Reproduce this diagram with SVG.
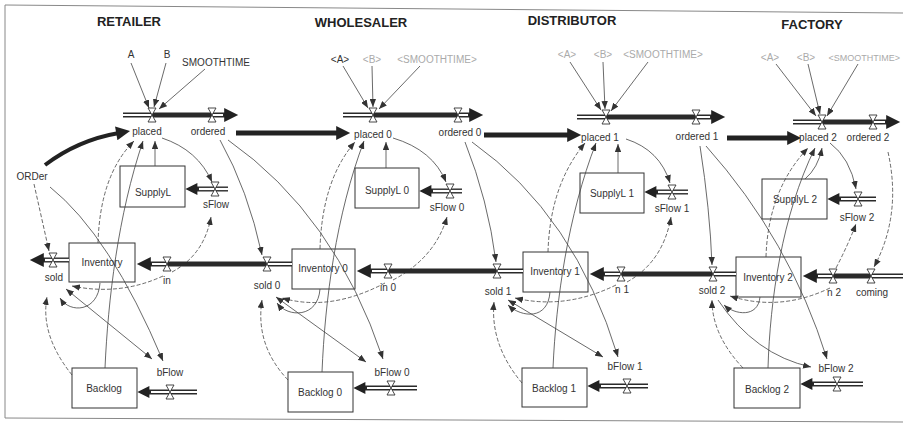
<svg xmlns="http://www.w3.org/2000/svg" xmlns:xlink="http://www.w3.org/1999/xlink" width="903" height="425" viewBox="0 0 903 425">
<style>
.t{font-family:"Liberation Sans",Arial,sans-serif;font-size:10px;fill:#333;text-anchor:middle}
.g{fill:#aaa}
.h{font-size:13px;font-weight:bold;fill:#222}
.bx{fill:#fff;stroke:#333;stroke-width:1}
.lk{fill:none;stroke:#444;stroke-width:0.8;marker-end:url(#ah)}
.d{stroke-dasharray:4 2}
.bi{marker-start:url(#ah)}
.th{fill:none;stroke:#222;stroke-width:5;marker-end:url(#big)}
.po{fill:none;stroke:#2a2a2a;stroke-width:5}
.pb{marker-end:url(#big)}
.ps{marker-end:url(#fa)}
.pi{fill:none;stroke:#fff;stroke-width:2.2}
.vl{fill:#fff;stroke:#333;stroke-width:0.9}
.fr{fill:none;stroke:#888;stroke-width:1}
</style>
<defs>
<marker id="ah" viewBox="0 0 10 8" refX="10" refY="4" markerWidth="8" markerHeight="6.5" markerUnits="userSpaceOnUse" orient="auto-start-reverse"><path d="M0,0 L10,4 L0,8 Z" fill="#333"/></marker>
<marker id="big" viewBox="0 0 10 10" refX="2" refY="5" markerWidth="16" markerHeight="14" markerUnits="userSpaceOnUse" orient="auto"><path d="M0,0 L10,5 L0,10 Z" fill="#222"/></marker>
<marker id="fa" viewBox="0 0 10 10" refX="2" refY="5" markerWidth="13" markerHeight="12" markerUnits="userSpaceOnUse" orient="auto"><path d="M0,0 L10,5 L0,10 Z" fill="#222"/></marker>
<path id="vv" class="vl" d="M-4,-7 H4 L-4,7 H4 Z"/>
</defs>
<rect width="903" height="425" fill="#fff"/>
<path class="fr" d="M5,5 L903,13 M5,5 L5,418 M5,418 L903,422"/>

<g id="titles">
<text class="t h" x="129" y="26">RETAILER</text>
<text class="t h" x="361" y="27">WHOLESALER</text>
<text class="t h" x="572" y="25">DISTRIBUTOR</text>
<text class="t h" x="812" y="29">FACTORY</text>
</g>

<!-- stocks -->
<g id="SupplyL"><rect class="bx" x="120" y="166" width="65" height="41"/><text class="t" x="153" y="196">SupplyL</text></g>
<g id="Inventory"><rect class="bx" x="69" y="243" width="66" height="39"/><text class="t" x="102" y="266">Inventory</text></g>
<g id="Backlog"><rect class="bx" x="72" y="368" width="65" height="40"/><text class="t" x="104" y="392">Backlog</text></g>

<g id="SupplyL0"><rect class="bx" x="355" y="168" width="64" height="40"/><text class="t" x="387" y="194">SupplyL 0</text></g>
<g id="Inventory0"><rect class="bx" x="292" y="249" width="63" height="40"/><text class="t" x="323" y="272">Inventory 0</text></g>
<g id="Backlog0"><rect class="bx" x="288" y="372" width="65" height="40"/><text class="t" x="320" y="396">Backlog 0</text></g>

<g id="SupplyL1"><rect class="bx" x="580" y="173" width="64" height="40"/><text class="t" x="612" y="197">SupplyL 1</text></g>
<g id="Inventory1"><rect class="bx" x="523" y="252" width="65" height="40"/><text class="t" x="555" y="275">Inventory 1</text></g>
<g id="Backlog1"><rect class="bx" x="522" y="368" width="65" height="39"/><text class="t" x="554" y="392">Backlog 1</text></g>

<g id="SupplyL2"><rect class="bx" x="762" y="179" width="65" height="40"/><text class="t" x="795" y="203">SupplyL 2</text></g>
<g id="Inventory2"><rect class="bx" x="736" y="257" width="65" height="40"/><text class="t" x="768" y="281">Inventory 2</text></g>
<g id="Backlog2"><rect class="bx" x="734" y="368" width="66" height="40"/><text class="t" x="767" y="393">Backlog 2</text></g>

<g id="connectors">
<!-- retailer links -->
<path class="lk" d="M131,63 L149,108"/>
<path class="lk" d="M166,63 L154,107"/>
<path class="lk" d="M205,69 L159,109"/>
<path fill="none" stroke="#222" stroke-width="4" marker-end="url(#big)" d="M45,165 Q78,140 119,133"/>
<path class="lk d" d="M34,184 L49,251"/>
<path class="lk" d="M50,187 Q110,235 163,361"/>
<path class="lk d" d="M98,243 Q100,175 134,141"/>
<path class="lk" d="M105,368 C108,300 118,215 143,141"/>
<path class="lk" d="M155,166 L155,141"/>
<path class="lk" d="M162,138 Q198,150 212,182"/>
<path class="lk d" d="M172,272 Q204,255 211,217"/>
<path class="lk d" d="M163,276 Q120,296 72,286"/>
<path class="lk" d="M100,283 C98,312 70,314 60,298"/>
<path class="lk d" d="M72,375 Q40,335 47,297"/>
<path class="lk bi" d="M66,289 L152,359"/>
<path class="lk" d="M220,140 Q248,190 262,255"/>
<path class="lk" d="M228,140 Q335,215 383,359"/>
<!-- wholesaler links -->
<path class="lk" d="M343,66 L368,108"/>
<path class="lk" d="M372,66 L373,107"/>
<path class="lk" d="M420,66 L379,109"/>
<path class="th" d="M236,133 L339,133"/>
<path class="lk d" d="M320,249 Q322,180 355,142"/>
<path class="lk" d="M322,372 C325,300 336,215 364,141"/>
<path class="lk" d="M386,168 L386,142"/>
<path class="lk" d="M393,138 Q433,150 446,182"/>
<path class="lk d" d="M393,280 Q435,258 447,217"/>
<path class="lk d" d="M385,283 Q330,312 282,298"/>
<path class="lk" d="M320,289 C318,318 288,318 277,303"/>
<path class="lk d" d="M288,380 Q255,345 262,300"/>
<path class="lk bi" d="M276,297 L366,362"/>
<path class="lk" d="M465,142 Q488,200 496,262"/>
<path class="lk" d="M472,142 Q575,215 618,357"/>
<!-- distributor links -->
<path class="lk" d="M570,62 L601,110"/>
<path class="lk" d="M603,62 L605,109"/>
<path class="lk" d="M648,62 L611,111"/>
<path class="th" d="M484,135 L570,135"/>
<path class="lk d" d="M548,252 Q550,185 585,143"/>
<path class="lk" d="M553,368 C556,300 568,215 596,143"/>
<path class="lk" d="M618,173 L618,144"/>
<path class="lk" d="M626,139 Q660,150 670,183"/>
<path class="lk d" d="M627,282 Q663,262 671,217"/>
<path class="lk d" d="M616,285 Q565,310 515,298"/>
<path class="lk" d="M550,292 C548,320 522,318 508,305"/>
<path class="lk d" d="M522,383 Q490,345 494,302"/>
<path class="lk bi" d="M508,300 L603,357"/>
<path class="lk" d="M700,146 Q710,210 712,265"/>
<path class="lk" d="M706,146 Q790,240 827,359"/>
<!-- factory links -->
<path class="lk" d="M776,64 L816,116"/>
<path class="lk" d="M808,64 L820,114"/>
<path class="lk" d="M858,64 L827,116"/>
<path class="th" d="M727,138 L790,138"/>
<path class="lk d" d="M766,257 Q768,190 808,148"/>
<path class="lk" d="M768,368 C770,300 782,215 815,148"/>
<path class="lk" d="M805,179 Q818,168 822,148"/>
<path class="lk" d="M830,143 Q850,158 856,189"/>
<path class="lk d" d="M836,268 Q848,245 856,224"/>
<path class="lk d" d="M830,288 Q780,312 730,296"/>
<path class="lk" d="M760,297 C758,318 735,315 724,305"/>
<path class="lk d" d="M743,368 Q712,335 712,300"/>
<path class="lk" d="M718,300 Q755,355 811,367"/>
<path class="lk d" d="M888,152 Q902,215 874,267"/>

<!-- upper flow pipes -->
<path class="po pb" d="M123,115 L227,115"/><path class="pi" d="M123,115 L152,115 M212,115 L223,115"/>
<path class="po pb" d="M343,115 L472,115"/><path class="pi" d="M343,115 L373,115 M458,115 L468,115"/>
<path class="po pb" d="M577,117 L714,117"/><path class="pi" d="M577,117 L606,117 M696,117 L710,117"/>
<path class="po pb" d="M793,122 L889,122"/><path class="pi" d="M793,122 L822,122 M873,122 L885,122"/>
<!-- lower flow pipes -->
<path class="po pb" d="M69,260 L41,260"/><path class="pi" d="M69,260 L45,260"/>
<path class="po pb" d="M292,264 L148,264"/><path class="pi" d="M292,264 L267,264 M167,264 L152,264"/>
<path class="po pb" d="M523,271 L368,271"/><path class="pi" d="M523,271 L497,271 M388,271 L372,271"/>
<path class="po pb" d="M736,274 L601,274"/><path class="pi" d="M736,274 L713,274 M621,274 L605,274"/>
<path class="po pb" d="M903,276 L814,276"/><path class="pi" d="M903,276 L871,276 M833,276 L818,276"/>
<!-- supply line pipes -->
<path class="po ps" d="M228,189 L195,189"/><path class="pi" d="M228,189 L199,189"/>
<path class="po ps" d="M462,191 L429,191"/><path class="pi" d="M462,191 L433,191"/>
<path class="po ps" d="M688,192 L654,192"/><path class="pi" d="M688,192 L658,192"/>
<path class="po ps" d="M876,199 L837,199"/><path class="pi" d="M876,199 L841,199"/>
<!-- backlog pipes -->
<path class="po ps" d="M197,392 L147,392"/><path class="pi" d="M197,392 L151,392"/>
<path class="po ps" d="M417,388 L363,388"/><path class="pi" d="M417,388 L367,388"/>
<path class="po ps" d="M648,386 L597,386"/><path class="pi" d="M648,386 L601,386"/>
<path class="po ps" d="M863,384 L810,384"/><path class="pi" d="M863,384 L814,384"/>
</g>

<!-- auxiliaries -->
<g id="A"><text class="t" x="131" y="58">A</text></g>
<g id="B"><text class="t" x="167" y="58">B</text></g>
<g id="SMOOTHTIME"><text class="t" x="216" y="66">SMOOTHTIME</text></g>
<g id="ORDer"><text class="t" x="32" y="180">ORDer</text></g>
<g id="A0"><text class="t" x="340" y="63">&lt;A&gt;</text></g>
<g id="B0"><text class="t g" x="372" y="63">&lt;B&gt;</text></g>
<g id="SMOOTHTIME0"><text class="t g" x="437" y="63">&lt;SMOOTHTIME&gt;</text></g>
<g id="A1"><text class="t g" x="567" y="58">&lt;A&gt;</text></g>
<g id="B1"><text class="t g" x="603" y="58">&lt;B&gt;</text></g>
<g id="SMOOTHTIME1"><text class="t g" x="663" y="58">&lt;SMOOTHTIME&gt;</text></g>
<g id="A2"><text class="t g" x="770" y="61">&lt;A&gt;</text></g>
<g id="B2"><text class="t g" x="806" y="61">&lt;B&gt;</text></g>
<g id="SMOOTHTIME2"><text class="t g" x="900" y="61" style="text-anchor:end;font-size:9px">&lt;SMOOTHTIME&gt;</text></g>

<!-- flows (valves) -->
<g id="placed"><use xlink:href="#vv" x="152" y="115"/><text class="t" x="147" y="135">placed</text></g>
<g id="ordered"><use xlink:href="#vv" x="212" y="115"/><text class="t" x="208" y="135">ordered</text></g>
<g id="sFlow"><use xlink:href="#vv" x="215" y="189"/><text class="t" x="216" y="208">sFlow</text></g>
<g id="sold"><use xlink:href="#vv" x="53" y="260"/><text class="t" x="54" y="281">sold</text></g>
<g id="in"><use xlink:href="#vv" x="167" y="264"/><text class="t" x="167" y="284">in</text></g>
<g id="bFlow"><use xlink:href="#vv" x="170" y="392"/><text class="t" x="170" y="376">bFlow</text></g>

<g id="placed0"><use xlink:href="#vv" x="373" y="115"/><text class="t" x="373" y="138">placed 0</text></g>
<g id="ordered0"><use xlink:href="#vv" x="458" y="115"/><text class="t" x="460" y="136">ordered 0</text></g>
<g id="sFlow0"><use xlink:href="#vv" x="450" y="191"/><text class="t" x="447" y="211">sFlow 0</text></g>
<g id="sold0"><use xlink:href="#vv" x="267" y="264"/><text class="t" x="267" y="289">sold 0</text></g>
<g id="in0"><use xlink:href="#vv" x="388" y="271"/><text class="t" x="388" y="291">in 0</text></g>
<g id="bFlow0"><use xlink:href="#vv" x="391" y="388"/><text class="t" x="392" y="376">bFlow 0</text></g>

<g id="placed1"><use xlink:href="#vv" x="606" y="117"/><text class="t" x="600" y="141">placed 1</text></g>
<g id="ordered1"><use xlink:href="#vv" x="696" y="117"/><text class="t" x="697" y="140">ordered 1</text></g>
<g id="sFlow1"><use xlink:href="#vv" x="672" y="192"/><text class="t" x="672" y="212">sFlow 1</text></g>
<g id="sold1"><use xlink:href="#vv" x="497" y="271"/><text class="t" x="498" y="295">sold 1</text></g>
<g id="in1"><use xlink:href="#vv" x="621" y="274"/><text class="t" x="622" y="293">n 1</text></g>
<g id="bFlow1"><use xlink:href="#vv" x="627" y="386"/><text class="t" x="625" y="370">bFlow 1</text></g>

<g id="placed2"><use xlink:href="#vv" x="822" y="122"/><text class="t" x="818" y="141">placed 2</text></g>
<g id="ordered2"><use xlink:href="#vv" x="873" y="122"/><text class="t" x="868" y="141">ordered 2</text></g>
<g id="sFlow2"><use xlink:href="#vv" x="858" y="199"/><text class="t" x="857" y="221">sFlow 2</text></g>
<g id="sold2"><use xlink:href="#vv" x="713" y="274"/><text class="t" x="712" y="294">sold 2</text></g>
<g id="in2"><use xlink:href="#vv" x="833" y="276"/><text class="t" x="834" y="296">n 2</text></g>
<g id="coming"><use xlink:href="#vv" x="871" y="276"/><text class="t" x="872" y="296">coming</text></g>
<g id="bFlow2"><use xlink:href="#vv" x="837" y="384"/><text class="t" x="836" y="372">bFlow 2</text></g>
</svg>
